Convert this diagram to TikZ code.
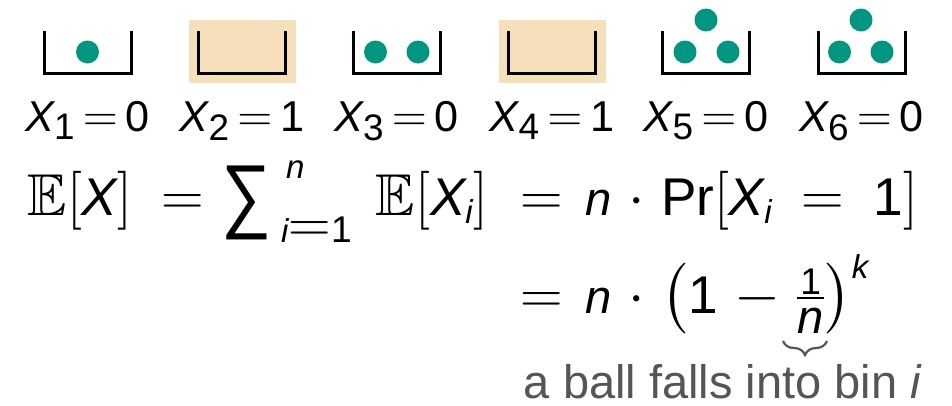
\documentclass[tikz,border=0pt]{standalone}
\usepackage{fix-cm}
\usepackage{amsmath,amssymb}
\usepackage[no-math]{fontspec}
\setmainfont{Liberation Sans}
\newfontfamily\lsans[NFSSFamily=lsansm, Scale=0.9]{Liberation Sans}
\newfontfamily\lsanss[NFSSFamily=lsanss, Scale=0.8]{Liberation Sans}
\DeclareSymbolFont{sfit}{TU}{lsansm}{m}{it}
\DeclareSymbolFont{sfup}{TU}{lsansm}{m}{n}
\DeclareSymbolFont{sfsm}{TU}{lsanss}{m}{it}
\DeclareMathSizes{48}{48}{41}{34}
\AtBeginDocument{%
\DeclareMathSymbol{X}{\mathalpha}{sfit}{`X}%
\DeclareMathSymbol{i}{\mathalpha}{sfsm}{`i}%
\DeclareMathSymbol{n}{\mathalpha}{sfsm}{`n}%
\DeclareMathSymbol{k}{\mathalpha}{sfsm}{`k}%
\DeclareMathSymbol{0}{\mathalpha}{sfup}{`0}%
\DeclareMathSymbol{1}{\mathalpha}{sfup}{`1}%
\DeclareMathSymbol{2}{\mathalpha}{sfup}{`2}%
\DeclareMathSymbol{3}{\mathalpha}{sfup}{`3}%
\DeclareMathSymbol{4}{\mathalpha}{sfup}{`4}%
\DeclareMathSymbol{5}{\mathalpha}{sfup}{`5}%
\DeclareMathSymbol{6}{\mathalpha}{sfup}{`6}%
}
\newcommand{\sfPr}{\mathop{\hbox{\lsans Pr}}\nolimits}
\newcommand{\eqsp}{\thickmuskip=7mu plus 2mu\relax\medmuskip=5mu plus 2mu\relax}
\newcommand{\lblsp}{\thickmuskip=3mu\relax}
\usetikzlibrary{decorations.pathreplacing}
\definecolor{ballc}{RGB}{0,150,130}
\definecolor{hlc}{RGB}{246,224,187}
\definecolor{notec}{RGB}{85,85,85}
\tikzset{
  binline/.style={line width=3pt, line cap=rect},
  ball/.style={fill=ballc, draw=none},
  hlbox/.style={fill=hlc, draw=none},
  lbl/.style={inner sep=0pt, anchor=base, font=\fontsize{48}{56}\selectfont},
  eq/.style={inner sep=0pt, font=\fontsize{59}{72}\selectfont},
  note/.style={inner sep=0pt, anchor=base, text=notec, font=\fontsize{47}{52}\selectfont},
  bracestyle/.style={draw=notec, line width=2.2pt, decorate,
    decoration={brace, mirror, amplitude=14pt}}
}
\begin{document}
\begin{tikzpicture}[x=1pt,y=-1pt]
\useasboundingbox (0,0) rectangle (952,405);
% highlight boxes
\fill[hlbox] (189,20) rectangle (296,83);
\fill[hlbox] (499,20) rectangle (606,83);
% bins
\foreach \c in {87.5,242,396.5,552,706,861.5}{
  \draw[binline] (\c-43.5,32) -- (\c-43.5,73) -- (\c+43.5,73) -- (\c+43.5,32);
}
% balls
\fill[ball] (87.5,52) circle (11.5);
\fill[ball] (375.5,52) circle (11.5);
\fill[ball] (418,52) circle (11.5);
\fill[ball] (685,52) circle (11.5);
\fill[ball] (728,52) circle (11.5);
\fill[ball] (706,20) circle (11.5);
\fill[ball] (839.5,52) circle (11.5);
\fill[ball] (882,52) circle (11.5);
\fill[ball] (861,20) circle (11.5);
% labels
\node[lbl] (x1) at (87.5,131) {$\lblsp X_1 = 0$};
\node[lbl] (x2) at (242,131) {$\lblsp X_2 = 1$};
\node[lbl] (x3) at (396.5,131) {$\lblsp X_3 = 0$};
\node[lbl] (x4) at (552,131) {$\lblsp X_4 = 1$};
\node[lbl] (x5) at (706,131) {$\lblsp X_5 = 0$};
\node[lbl] (x6) at (861.5,131) {$\lblsp X_6 = 0$};
% equation, first line, left side
\node[eq, anchor=base] (lE) at (80,215) {$\mathbb{E}[X]$};
\node[eq, anchor=base] (leq) at (183,215) {$=$};
\node[eq, anchor=center] (lsum) at (246,203) {\resizebox*{50pt}{74pt}{\lsans ∑}};
\node[eq, anchor=base west] (lsup) at (286,178) {$\scriptstyle n$};
\node[eq, anchor=base west] (lsub) at (281,242) {$\scriptstyle i\mathrel{\textstyle =}1$};
\node[eq, anchor=base] (lEi) at (432,215) {$\mathbb{E}[X_i]$};
% right sides
\node[eq, anchor=base west] (r1) at (520,215) {$\eqsp= n\cdot \sfPr[X_i \mathrel{\mkern2mu=\mkern2mu} 1]$};
\node[eq, anchor=base west] (r2) at (520,313) {$\eqsp= n\cdot \left(1 - \frac{\lower7pt\hbox{$\scriptstyle 1$}}{\textstyle n}\right)^{k}$};
% brace and note
\coordinate (bl) at (783,341);
\coordinate (br) at (827,341);
\draw[bracestyle] (bl) -- (br);
\node[note] (nt) at (723,398) {a ball falls into bin \textit{i}};
\end{tikzpicture}
\end{document}
